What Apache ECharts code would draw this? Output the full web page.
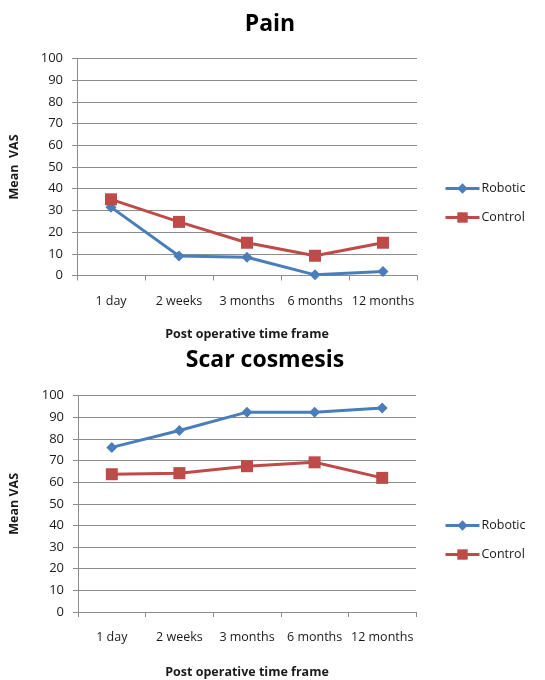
<!DOCTYPE html>
<html>
<head>
<meta charset="utf-8">
<script src="https://cdn.jsdelivr.net/npm/echarts@6/dist/echarts.min.js"></script>
<style>
  html, body { margin: 0; padding: 0; background: #fff; }
  #chart { width: 545px; height: 680px; }
</style>
</head>
<body>
<div id="chart"></div>
<script>
// Time points after surgery
const timeFrames = ['1 day', '2 weeks', '3 months', '6 months', '12 months'];
const seriesNames = ['Robotic', 'Control'];

// Pain (mean VAS)
const painRobotic = [31.5, 9.0, 8.4, 0.3, 1.8];
const painControl = [35.1, 24.7, 15.1, 9.1, 15.1];

// Scar cosmesis (mean VAS)
const scarRobotic = [76.1, 83.9, 92.4, 92.4, 94.3];
const scarControl = [63.7, 64.2, 67.4, 69.2, 62.0];

const yTicks = { min: 0, max: 100, interval: 10 };

const FONT = '"Open Sans", "Noto Sans", sans-serif';
const BLUE = '#4a7ebb';
const RED = '#be4b48';
const GRID_GRAY = '#8c8c8c';
const TEXT = '#1a1a1a';

function xAxis(gridIndex, gap) {
  return {
    type: 'category', gridIndex, data: timeFrames, boundaryGap: true,
    name: 'Post operative time frame', nameLocation: 'middle', nameGap: gap,
    nameTextStyle: { fontFamily: FONT, fontWeight: 'bold', fontSize: 12.5, color: TEXT },
    axisLine: { lineStyle: { color: GRID_GRAY, width: 1 } },
    axisTick: { show: true, alignWithLabel: false, length: 5, lineStyle: { color: GRID_GRAY } },
    axisLabel: { fontFamily: FONT, fontSize: 12.5, color: TEXT, margin: 19, interval: 0 }
  };
}

function yAxis(gridIndex, name, gap) {
  return {
    type: 'value', gridIndex, min: yTicks.min, max: yTicks.max, interval: yTicks.interval,
    name, nameLocation: 'middle', nameGap: gap, nameRotate: 90,
    nameTextStyle: { fontFamily: FONT, fontWeight: 'bold', fontSize: 12.5, color: TEXT },
    axisLine: { show: true, lineStyle: { color: GRID_GRAY, width: 1 } },
    axisTick: { show: true, length: 5, lineStyle: { color: GRID_GRAY } },
    axisLabel: { fontFamily: FONT, fontSize: 13, color: TEXT, margin: 14 },
    splitLine: { show: true, lineStyle: { color: GRID_GRAY, width: 1 } }
  };
}

function lineSeries(name, data, idx, color, symbol, size) {
  return {
    name, type: 'line', data, xAxisIndex: idx, yAxisIndex: idx,
    symbol, symbolSize: size, showSymbol: true,
    lineStyle: { color, width: 3 },
    itemStyle: { color },
    animation: false
  };
}

function legend(top) {
  return {
    orient: 'vertical', left: 439, top, data: seriesNames,
    itemWidth: 34, itemHeight: 13, itemGap: 16,
    lineStyle: { width: 3 },
    textStyle: { fontFamily: FONT, fontSize: 12.5, color: TEXT, padding: [0, 0, 0, -3] },
    selectedMode: false
  };
}

const chart = echarts.init(document.getElementById('chart'), null, { renderer: 'canvas' });
chart.setOption({
  backgroundColor: '#fff',
  animation: false,
  title: [
    { text: 'Pain', left: 265, top: 8, textAlign: 'center',
      textStyle: { fontFamily: FONT, fontWeight: 'bold', fontSize: 23, color: '#000' } },
    { text: 'Scar cosmesis', left: 260, top: 344, textAlign: 'center',
      textStyle: { fontFamily: FONT, fontWeight: 'bold', fontSize: 23, color: '#000' } }
  ],
  legend: [legend(177), legend(514)],
  grid: [
    { left: 75, top: 58.5, width: 342, height: 217 },
    { left: 68, top: 395.7, width: 348, height: 217.6 }
  ],
  xAxis: [xAxis(0, 52), xAxis(1, 54)],
  yAxis: [yAxis(0, 'Mean  VAS', 56), yAxis(1, 'Mean VAS', 57)],
  series: [
    lineSeries('Robotic', painRobotic, 0, BLUE, 'diamond', 11),
    lineSeries('Control', painControl, 0, RED, 'rect', 12),
    lineSeries('Robotic', scarRobotic, 1, BLUE, 'diamond', 11),
    lineSeries('Control', scarControl, 1, RED, 'rect', 12)
  ]
});
</script>
</body>
</html>
